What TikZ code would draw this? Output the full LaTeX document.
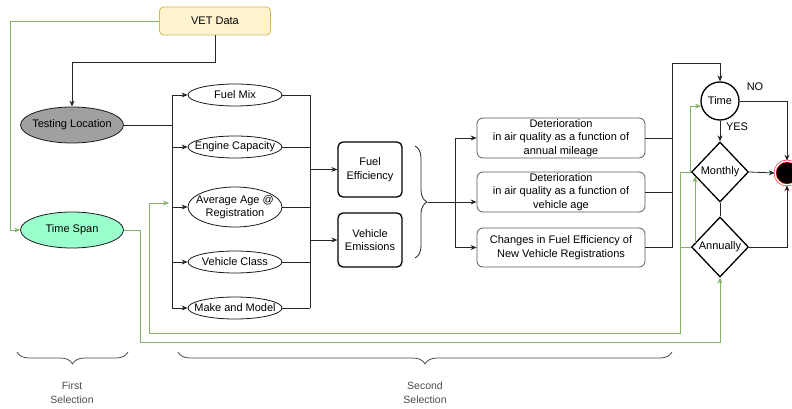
\documentclass[tikz,border=0pt]{standalone}
\usepackage{fontspec}
\setmainfont{Liberation Sans}
\usepackage[usenames,dvipsnames]{xcolor}
\usepackage{tikz}
\usetikzlibrary{arrows.meta,shapes.geometric,decorations.pathreplacing}

\definecolor{vetfill}{HTML}{FFF2CC}
\definecolor{vetline}{HTML}{D6B656}
\definecolor{spanfill}{HTML}{99FFCC}
\definecolor{locfill}{HTML}{A0A0A0}
\definecolor{gline}{HTML}{82B366}

\tikzset{
    wire/.style={draw=black!85,line width=0.8pt},
    gwire/.style={draw=gline,line width=0.8pt},
    oval/.style={ellipse,draw=black!90,line width=0.8pt,minimum width=94,
                 minimum height=22,inner xsep=-9pt,inner ysep=0pt,align=center},
    factor/.style={rectangle,rounded corners=5pt,draw=black,line width=1.3pt,
                   minimum width=64,minimum height=55,align=center},
    outcome/.style={rectangle,rounded corners=6pt,draw=black!65,line width=0.8pt,
                    minimum width=168,minimum height=40,align=center,inner sep=1pt},
    decision/.style={diamond,draw=black,line width=1.3pt,minimum width=57,
                     minimum height=60,inner sep=0pt},
    endpt/.style={circle,fill=black,draw=red,double=white,double distance=1.5pt,
                  line width=0.5pt,minimum size=24,inner sep=0pt},
    note/.style={text=black!70,align=center,font=\fontsize{10.5}{14}\selectfont}
}

\begin{document}
\begin{tikzpicture}[x=1pt,y=-1pt,font=\fontsize{11}{13.5}\selectfont,
                    >={Stealth[length=6pt,width=5pt]}]
            \useasboundingbox (0,0) rectangle (792,409);

            \node[rectangle,rounded corners=4pt,draw=vetline,fill=vetfill,line width=0.8pt,
                  minimum width=111,minimum height=28] (vet) at (215,21) {VET Data};

            \begin{scope}[every node/.style={oval,minimum width=103,minimum height=36}]
                \node[fill=locfill] (loc) at (72,125) {Testing Location};
                \node[fill=spanfill] (span) at (72,230) {Time Span};
            \end{scope}

            \begin{scope}[every node/.style={oval}]
                \node (fuelmix) at (235,95) {Fuel Mix};
                \node (engine) at (235,147) {Engine Capacity};
                \node[minimum height=40] (avgage) at (235,207) {Average Age @\\Registration};
                \node (vclass) at (235,262) {Vehicle Class};
                \node (make) at (235,308) {Make and Model};
            \end{scope}

            \begin{scope}[every node/.style={factor}]
                \node (fueleff) at (370,169.5) {Fuel\\Efficiency};
                \node[minimum height=54] (vemis) at (370,240) {Vehicle\\Emissions};
            \end{scope}

            \begin{scope}[every node/.style={outcome}]
                \node (det1) at (561,138) {Deterioration\\in air quality as a function of\\annual mileage};
                \node (det2) at (561,192) {Deterioration\\in air quality as a function of\\vehicle age};
                \node[minimum height=39] (chg) at (561,247.5) {Changes in Fuel Efficiency of\\New Vehicle Registrations};
            \end{scope}

            \node[circle,draw=black,line width=1.3pt,minimum size=38,inner sep=0pt] (time) at (720,101) {Time};
            \node[decision] (monthly) at (720,172) {Monthly};
            \node[decision] (annually) at (720,247) {Annually};
            \node[endpt] (stop) at (787,173) {};
            \node (nolbl) at (755,87) {NO};
            \node (yeslbl) at (737,127) {YES};

            \coordinate (lbtop) at (172,95);
            \coordinate (lbbot) at (172,308);
            \coordinate (rbtop) at (310,95);
            \coordinate (rbbot) at (310,308);
            \coordinate (bra) at (415,146);
            \coordinate (brb) at (415,258);
            \coordinate (brtip) at (428,202);
            \coordinate (dbtop) at (455,138);
            \coordinate (rtop) at (672,63);
            \coordinate (gleft) at (10,21);
            \coordinate (gdown) at (140,342);
            \coordinate (gup) at (680,333);
            \coordinate (gback) at (149,203);
            \coordinate (agein) at (169,203);

            \draw[wire,->] (vet.south) -- ++(0,27) -| (loc.north);
            \draw[wire] (loc.east) -- (loc.east -| lbtop);
            \draw[wire] (lbtop) -- (lbbot);
            \draw[wire] (rbtop) -- (rbbot);
            \foreach \n in {fuelmix,engine,avgage,vclass,make} {
                \draw[wire,->] (\n.west -| lbtop) -- (\n.west);
                \draw[wire] (\n.east) -- (\n.east -| rbtop);
            }
            \draw[wire,->] (fueleff.west -| rbtop) -- (fueleff.west);
            \draw[wire,->] (vemis.west -| rbtop) -- (vemis.west);

            \draw[wire,decorate,decoration={brace,amplitude=12pt}] (bra) -- (brb);
            \draw[wire,->] (brtip) -- (brtip -| det2.west);
            \draw[wire] (det1.west -| dbtop) -- (chg.west -| dbtop);
            \draw[wire,->] (det1.west -| dbtop) -- (det1.west);
            \draw[wire,->] (chg.west -| dbtop) -- (chg.west);

            \draw[wire,->] (chg.east) -| (rtop) -| (time.north);
            \draw[wire] (det1.east) -- (det1.east -| rtop);
            \draw[wire] (det2.east) -- (det2.east -| rtop);

            \draw[wire,->] (time.south) -- (monthly.north);
            \draw[wire] (monthly.south) -- (annually.north);
            \draw[wire,->] (time.east) -| (stop.north);
            \draw[wire,->] (monthly.east) -- (stop.west);
            \draw[wire,->] (annually.east) -| (stop.south);

            \draw[gwire,->] (vet.west) -- (gleft) |- (span.west);
            \draw[gwire,->] (span.east) -| (gdown) -| (annually.south);
            \draw[gwire,->] (monthly.west) -| (gup) -| (gback) -- (agein);
            \draw[gwire] (annually.west) -- (annually.west -| gup);
            \draw[gwire,->] (monthly.west) |- (time.195);
            \draw[gwire,->] (annually.170) -- (monthly.190);

            \draw[wire,draw=black!70,decorate,decoration={brace,mirror,amplitude=12pt}] (17,352) -- (128,352);
            \draw[wire,draw=black!70,decorate,decoration={brace,mirror,amplitude=12pt}] (178,352) -- (672,352);
            \node[note] (firstsel) at (72,393) {First\\Selection};
            \node[note] (secondsel) at (425,393) {Second\\Selection};
\end{tikzpicture}
\end{document}
